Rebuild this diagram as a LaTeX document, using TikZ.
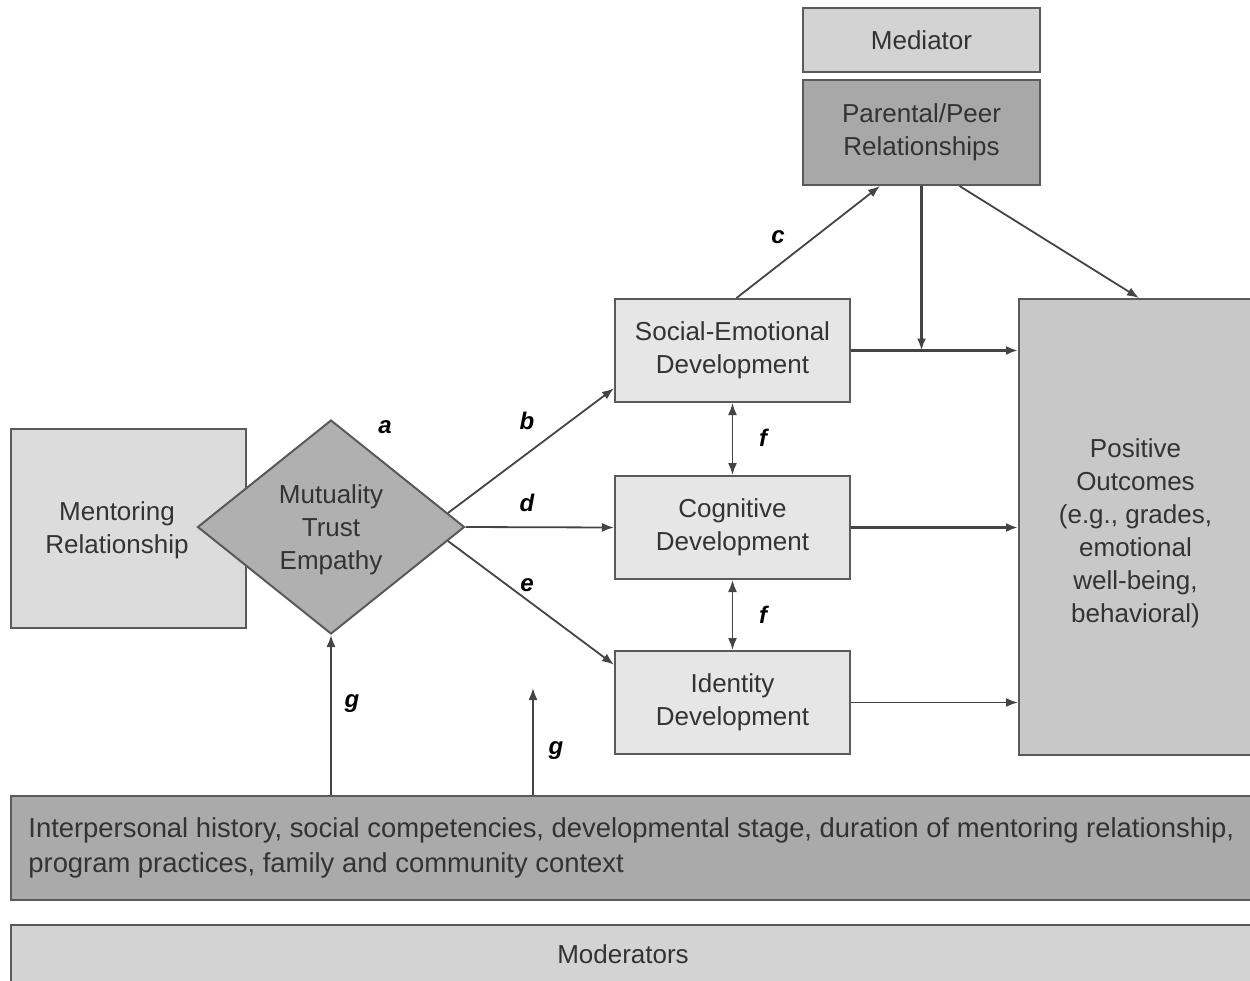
\documentclass[tikz,border=0pt]{standalone}
\usepackage{fontspec}
\setmainfont{Liberation Sans}
\usetikzlibrary{shapes.geometric,arrows.meta,calc}
\definecolor{bord}{HTML}{5A5A5A}
\definecolor{txt}{HTML}{333333}
\definecolor{linec}{HTML}{444444}
\definecolor{medc}{HTML}{D3D3D3}
\definecolor{parc}{HTML}{A8A8A8}
\definecolor{devc}{HTML}{E6E6E6}
\definecolor{poc}{HTML}{C8C8C8}
\definecolor{menc}{HTML}{DCDCDC}
\definecolor{diac}{HTML}{B0B0B0}
\definecolor{barc}{HTML}{AAAAAA}
\begin{document}
\begin{tikzpicture}[x=0.5pt,y=-0.5pt,
  box/.style={draw=bord,line width=1pt,inner sep=0pt,align=center,
    font=\fontsize{13}{16.5}\selectfont,text=txt},
  txtnode/.style={inner sep=0pt,align=center,font=\fontsize{13}{16.5}\selectfont,text=txt},
  arr/.style={draw=linec,line width=0.9pt,-{Latex[length=6pt,width=4.5pt]}},
  darr/.style={draw=linec,line width=0.9pt,{Latex[length=6pt,width=4.5pt]}-{Latex[length=6pt,width=4.5pt]}},
  thick line/.style={draw=linec,line width=1.4pt},
  lab/.style={font=\fontsize{12}{14}\selectfont\bfseries\itshape,text=black}]
\useasboundingbox (0,0) rectangle (1250,981);
% boxes
\node[box,fill=medc,minimum width=118.5pt,minimum height=32pt] (med) at (921.5,40) {Mediator};
\node[box,fill=parc,minimum width=118.5pt,minimum height=52.5pt] (par) at (921.5,132.5) {Parental/Peer\\Relationships};
\node[box,fill=devc,minimum width=117.5pt,minimum height=51.5pt] (se) at (732.5,350.5) {Social-Emotional\\Development};
\node[box,fill=devc,minimum width=117.5pt,minimum height=51.5pt] (cog) at (732.5,527.5) {Cognitive\\Development};
\node[box,fill=devc,minimum width=117.5pt,minimum height=51.5pt] (id) at (732.5,702.5) {Identity\\Development};
\node[box,fill=poc,minimum width=116.5pt,minimum height=228pt] (po) at (1135.5,527) {};
\node[txtnode] (potext) at (1135.5,533) {Positive\\Outcomes\\(e.g., grades,\\emotional\\well-being,\\behavioral)};
\node[box,fill=menc,minimum width=117.5pt,minimum height=99.5pt] (men) at (128.5,528.5) {};
\node[txtnode] (mentext) at (117,530) {Mentoring\\Relationship};
\node[box,diamond,fill=diac,minimum width=133.5pt,minimum height=107pt,aspect=1.25] (dia) at (331,527) {};
\node[txtnode] (diatext) at (331,530) {Mutuality\\Trust\\Empathy};
\node[box,fill=barc,minimum width=621pt,minimum height=52pt] (bar) at (631.5,848) {};
\node[anchor=west,align=left,font=\fontsize{13.7}{17.5}\selectfont,text=txt,inner sep=0pt] (bartext) at (28,848)
  {Interpersonal history, social competencies, developmental stage, duration of mentoring relationship,\\program practices, family and community context};
\node[box,fill=medc,minimum width=621pt,minimum height=30pt] (mods) at (631.5,955) {};
\node[txtnode] (modtext) at (623,954) {Moderators};
% connectors
\draw[arr] ($(dia.east)!0.13!(dia.north)$) -- ($(se.south west)!0.14!(se.north west)$);
\draw[arr] (dia.east) -- (cog.west);
\draw[arr] ($(dia.east)!0.13!(dia.south)$) -- ($(id.north west)!0.14!(id.south west)$);
\draw[arr] ([xshift=2pt]se.north) -- ([xshift=-20.75pt]par.south);
\coordinate (junc) at (par.south |- se.east);
\draw[thick line,-{Latex[length=6pt,width=4.5pt]}] (par.south) -- (junc);
\draw[arr] ([xshift=19pt]par.south) -- ([xshift=60.5pt]po.north west);
\draw[thick line,-{Latex[length=6pt,width=4.5pt]}] (se.east) -- (po.west |- se.east);
\draw[thick line,-{Latex[length=6pt,width=4.5pt]}] (cog.east) -- (po.west |- cog.east);
\draw[arr] (id.east) -- (po.west |- id.east);
\draw[darr] (se.south) -- (cog.north);
\draw[darr] (cog.south) -- (id.north);
\draw[arr] (bar.north -| dia.south) -- (dia.south);
\coordinate (gend) at (533,688);
\draw[arr] (bar.north -| gend) -- (gend);
% labels
\node[lab] (la) at (385,427) {a};
\node[lab] (lb) at (527,421) {b};
\node[lab] (ld) at (527,503) {d};
\node[lab] (lc) at (778,237) {c};
\node[lab] (le) at (527,585) {e};
\node[lab] (lf1) at (763,438) {f};
\node[lab] (lf2) at (763,615) {f};
\node[lab] (lg1) at (352,704) {g};
\node[lab] (lg2) at (556,751) {g};
\end{tikzpicture}
\end{document}
